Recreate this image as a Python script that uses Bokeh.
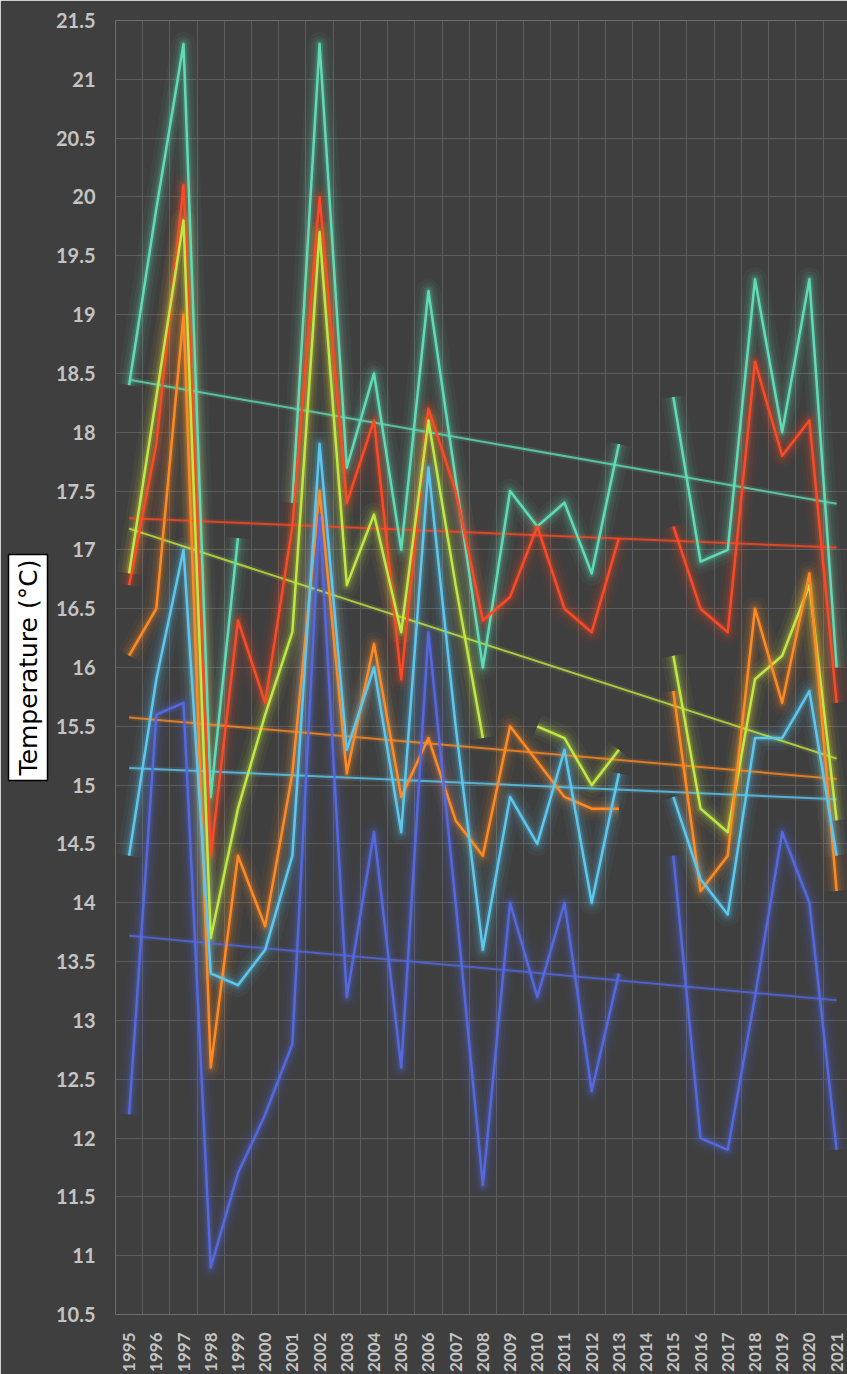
import numpy as np
from bokeh.plotting import figure
from bokeh.models import ColumnDataSource, FixedTicker, CustomJSTickFormatter, Title
from bokeh.embed import file_html
from bokeh.resources import INLINE

nan = float("nan")

years = list(range(1995, 2022))

series_teal = [18.4, 19.9, 21.3, 14.9, 17.1, nan, 17.4, 21.3, 17.7, 18.5, 17.0, 19.2, 17.6, 16.0,
               17.5, 17.2, 17.4, 16.8, 17.9, nan, 18.3, 16.9, 17.0, 19.3, 18.0, 19.3, 16.0]
series_red = [16.7, 17.9, 20.1, 14.4, 16.4, 15.7, 17.2, 20.0, 17.4, 18.1, 15.9, 18.2, 17.5, 16.4,
              16.6, 17.2, 16.5, 16.3, 17.1, nan, 17.2, 16.5, 16.3, 18.6, 17.8, 18.1, 15.7]
series_yellow = [16.8, 18.3, 19.8, 13.7, 14.8, 15.6, 16.3, 19.7, 16.7, 17.3, 16.3, 18.1, 16.7, 15.4,
                 nan, 15.5, 15.4, 15.0, 15.3, nan, 16.1, 14.8, 14.6, 15.9, 16.1, 16.7, 14.7]
series_orange = [16.1, 16.5, 19.0, 12.6, 14.4, 13.8, 15.1, 17.5, 15.1, 16.2, 14.9, 15.4, 14.7, 14.4,
                 15.5, 15.2, 14.9, 14.8, 14.8, nan, 15.8, 14.1, 14.4, 16.5, 15.7, 16.8, 14.1]
series_cyan = [14.4, 15.9, 17.0, 13.4, 13.3, 13.6, 14.4, 17.9, 15.3, 16.0, 14.6, 17.7, 15.5, 13.6,
               14.9, 14.5, 15.3, 14.0, 15.1, nan, 14.9, 14.2, 13.9, 15.4, 15.4, 15.8, 14.4]
series_blue = [12.2, 15.6, 15.7, 10.9, 11.7, 12.2, 12.8, 17.3, 13.2, 14.6, 12.6, 16.3, 14.0, 11.6,
               14.0, 13.2, 14.0, 12.4, 13.4, nan, 14.4, 12.0, 11.9, 13.2, 14.6, 14.0, 11.9]

y_ticks = [10.5, 11, 11.5, 12, 12.5, 13, 13.5, 14, 14.5, 15, 15.5, 16, 16.5, 17, 17.5,
           18, 18.5, 19, 19.5, 20, 20.5, 21, 21.5]
y_label = "Temperature (°C)"

series = [
    (series_teal, "#5fdcb6"),
    (series_red, "#fb4a24"),
    (series_yellow, "#c0e844"),
    (series_orange, "#ff8a24"),
    (series_cyan, "#5cc8ef"),
    (series_blue, "#5468e0"),
]

BG = "#3f3f3f"

p = figure(width=847, height=1374, x_range=(1994.5, 2021.4), y_range=(10.5, 21.5),
           output_backend="svg", toolbar_location=None,
           min_border_left=115, min_border_right=0, min_border_top=20, min_border_bottom=58,
           background_fill_color=BG, border_fill_color=BG, outline_line_color=None)

# grid
p.xgrid.ticker = FixedTicker(ticks=[y - 0.5 for y in years] + [years[-1] + 0.5])
p.xgrid.grid_line_color = "#5c5c5c"
p.xgrid.grid_line_width = 1
p.ygrid.ticker = FixedTicker(ticks=y_ticks)
p.ygrid.grid_line_color = "#5c5c5c"
p.ygrid.grid_line_width = 1

# axes
p.xaxis.ticker = FixedTicker(ticks=years)
p.xaxis.major_label_orientation = np.pi / 2
p.yaxis.ticker = FixedTicker(ticks=y_ticks)
p.yaxis.formatter = CustomJSTickFormatter(code="return tick.toString();")
for ax in (p.xaxis, p.yaxis):
    ax.axis_line_color = None
    ax.major_tick_line_color = None
    ax.minor_tick_line_color = None
    ax.major_label_text_color = "#c4c4c4"
    ax.major_label_text_font = "Lato"
    ax.major_label_text_font_style = "bold"
p.yaxis.major_label_text_font_size = "20px"
p.yaxis.major_label_standoff = 14
p.xaxis.major_label_text_font_size = "17px"
p.xaxis.major_label_standoff = 12

t = Title(text=y_label, align="center", text_font="DejaVu Sans", text_font_size="25px",
          text_font_style="normal", text_color="black", padding=5,
          background_fill_color="white", border_line_color="black", border_line_width=1.5)
p.add_layout(t, "left")

sources = [ColumnDataSource(dict(x=years, y=vals)) for vals, _ in series]

# glow layers
for src, (vals, col) in zip(sources, series):
    for w, a in [(24, 0.05), (16, 0.07), (10, 0.1), (6, 0.18)]:
        p.line("x", "y", source=src, color=col, line_width=w, line_alpha=a, line_join="round")

# trend lines (linear fit of the data)
for vals, col in series:
    xs = np.array(years, dtype=float)
    ys = np.array(vals, dtype=float)
    m = ~np.isnan(ys)
    k, b = np.polyfit(xs[m], ys[m], 1)
    tx = [years[0], years[-1]]
    ty = [k * x + b for x in tx]
    p.line(tx, ty, color=col, line_width=6, line_alpha=0.12)
    p.line(tx, ty, color=col, line_width=2, line_alpha=0.8)

# core lines
for src, (vals, col) in zip(sources, series):
    p.line("x", "y", source=src, color=col, line_width=2.5, line_join="round")

html = file_html(p, INLINE)
html = html.replace("<body>", '<body style="margin:0;overflow:hidden;background:%s;">' % BG, 1)
open("out.html", "w").write(html)
